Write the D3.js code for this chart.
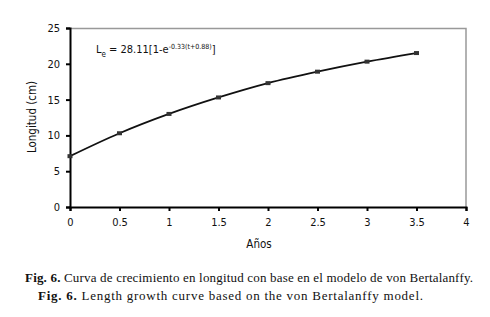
<!DOCTYPE html>
<html>
<head>
<meta charset="utf-8">
<script src="https://cdn.jsdelivr.net/npm/d3@7"></script>
<style>
  body { margin: 0; background: #fff; }
  svg { display: block; }
</style>
</head>
<body>
<div id="chart"></div>
<script>
// values
const years = [0, 0.5, 1, 1.5, 2, 2.5, 3, 3.5];
const lengths = [7.1, 10.3, 13.0, 15.3, 17.3, 18.9, 20.3, 21.5];
const xTicks = [0, 0.5, 1, 1.5, 2, 2.5, 3, 3.5, 4];
const yTicks = [0, 5, 10, 15, 20, 25];

const W = 490, H = 317;
const MARGIN = { TOP: 28, LEFT: 70, RIGHT: 24, BOTTOM: 110 };
const WIDTH = 466 - MARGIN.LEFT;
const HEIGHT = 207 - MARGIN.TOP;
const FONT = "Tahoma, 'DejaVu Sans Condensed', 'Liberation Sans', sans-serif";

const svg = d3.select("#chart").append("svg")
  .attr("width", W).attr("height", H);

const g = svg.append("g")
  .attr("transform", `translate(${MARGIN.LEFT}, ${MARGIN.TOP})`);

const x = d3.scaleLinear().domain([0, 4]).range([0, WIDTH]);
const y = d3.scaleLinear().domain([0, 25]).range([HEIGHT, 0]);

// gray frame on top and right
g.append("path")
  .attr("d", `M0,0.5H${WIDTH}V${HEIGHT}`)
  .attr("fill", "none").attr("stroke", "#999").attr("stroke-width", 1.5);

const xAxis = g.append("g")
  .attr("transform", `translate(0, ${HEIGHT})`)
  .call(d3.axisBottom(x).tickValues(xTicks).tickSize(4).tickPadding(7).tickFormat(d3.format("")));

const yAxis = g.append("g")
  .call(d3.axisLeft(y).tickValues(yTicks).tickSize(4).tickPadding(6));

[xAxis, yAxis].forEach(a => {
  a.select(".domain").attr("stroke", "#000").attr("stroke-width", 2);
  a.selectAll(".tick line").attr("stroke", "#000").attr("stroke-width", 2);
  a.selectAll(".tick text").attr("fill", "#111")
    .style("font-family", FONT).style("font-size", "11px");
});

// curve
const pts = years.map((d, i) => [d, lengths[i]]);
g.append("path")
  .datum(pts)
  .attr("fill", "none")
  .attr("stroke", "#111")
  .attr("stroke-width", 1.8)
  .attr("d", d3.line().x(d => x(d[0])).y(d => y(d[1])).curve(d3.curveMonotoneX));

g.selectAll("rect.pt")
  .data(pts)
  .enter().append("rect")
    .attr("class", "pt")
    .attr("x", d => x(d[0]) - 2.5)
    .attr("y", d => y(d[1]) - 2)
    .attr("width", 5).attr("height", 4)
    .attr("fill", "#333");

// equation
const eq = g.append("text")
  .attr("x", 26).attr("y", 25)
  .style("font-family", FONT).style("font-size", "11px").attr("fill", "#111");
eq.append("tspan").text("L");
eq.append("tspan").attr("dy", 4).style("font-size", "8px").text("e");
eq.append("tspan").attr("dy", -4).text(" = 28.11[1-e");
eq.append("tspan").attr("dy", -4).style("font-size", "7px").text("-0.33(t+0.88)");
eq.append("tspan").attr("dy", 4).text("]");

// axis titles
svg.append("text")
  .attr("x", 259).attr("y", 248)
  .attr("text-anchor", "middle")
  .style("font-family", FONT).style("font-size", "11.5px").attr("fill", "#111")
  .text("Años");

svg.append("text")
  .attr("transform", "translate(36, 117) rotate(-90)")
  .attr("text-anchor", "middle")
  .style("font-family", FONT).style("font-size", "11.5px").attr("fill", "#111")
  .text("Longitud (cm)");

// captions
const captions = [
  { x: 25, y: 282, len: 448, bold: "Fig. 6.", rest: " Curva de crecimiento en longitud con base en el modelo de von Bertalanffy." },
  { x: 38, y: 300, len: 385, bold: "Fig. 6.", rest: " Length growth curve based on the von Bertalanffy model." }
];
captions.forEach(c => {
  const t = svg.append("text")
    .attr("x", c.x).attr("y", c.y)
    .attr("textLength", c.len).attr("lengthAdjust", "spacing")
    .style("font-family", "'Liberation Serif', 'Times New Roman', serif")
    .style("font-size", "13px").attr("fill", "#111");
  t.append("tspan").style("font-weight", "bold").text(c.bold);
  t.append("tspan").text(c.rest);
});
</script>
</body>
</html>
